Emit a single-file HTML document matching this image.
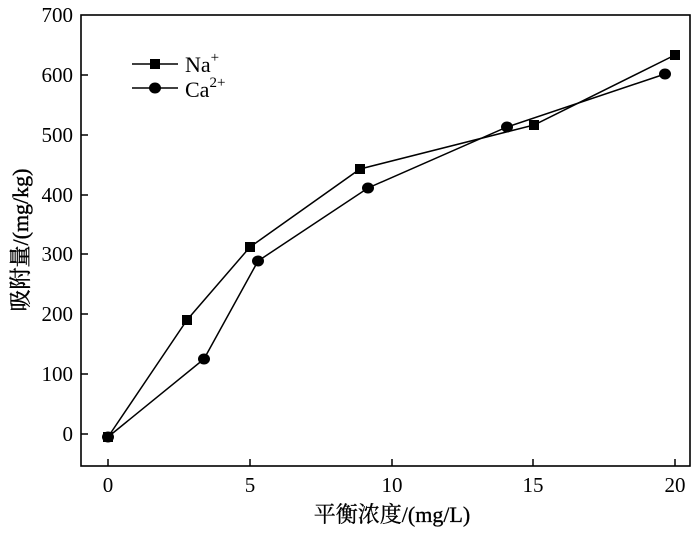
<!DOCTYPE html><html><head><style>body{margin:0;background:#fff}</style></head><body>
<svg width="700" height="529" xmlns="http://www.w3.org/2000/svg" font-family="Liberation Serif, Noto Serif CJK SC, serif" font-size="21">
<rect x="81" y="15" width="609" height="451" fill="none" stroke="#000" stroke-width="1.6"/>
<g stroke="#000" stroke-width="1.5">
<line x1="108" y1="466" x2="108" y2="459"/><line x1="250" y1="466" x2="250" y2="459"/><line x1="392" y1="466" x2="392" y2="459"/><line x1="533" y1="466" x2="533" y2="459"/><line x1="675" y1="466" x2="675" y2="459"/>
<line x1="81" y1="434" x2="88" y2="434"/><line x1="81" y1="374" x2="88" y2="374"/><line x1="81" y1="314" x2="88" y2="314"/><line x1="81" y1="254" x2="88" y2="254"/><line x1="81" y1="195" x2="88" y2="195"/><line x1="81" y1="135" x2="88" y2="135"/><line x1="81" y1="75" x2="88" y2="75"/>
</g>
<g text-anchor="middle"><text x="108" y="492">0</text><text x="250" y="492">5</text><text x="392" y="492">10</text><text x="533" y="492">15</text><text x="675" y="492">20</text></g>
<g text-anchor="end"><text x="73" y="441">0</text><text x="73" y="381">100</text><text x="73" y="321">200</text><text x="73" y="261">300</text><text x="73" y="202">400</text><text x="73" y="142">500</text><text x="73" y="82">600</text><text x="73" y="22">700</text></g>
<text x="392" y="522" text-anchor="middle" font-size="22" stroke="#000" stroke-width="0.3">平衡浓度/(mg/L)</text>
<text transform="translate(28,240) rotate(-90)" text-anchor="middle" font-size="22" stroke="#000" stroke-width="0.4">吸附量/(mg/kg)</text>
<polyline fill="none" stroke="#000" stroke-width="1.5" points="108,437 187,320 250,247 360,169 534,125 675,55"/>
<polyline fill="none" stroke="#000" stroke-width="1.5" points="108,437 204,359 258,261 368,188 507,127 665,74"/>
<g fill="#000">
<rect x="103" y="432" width="10" height="10"/><rect x="182" y="315" width="10" height="10"/><rect x="245" y="242" width="10" height="10"/><rect x="355" y="164" width="10" height="10"/><rect x="529" y="120" width="10" height="10"/><rect x="670" y="50" width="10" height="10"/>
<ellipse cx="108" cy="437" rx="6" ry="5.5"/><ellipse cx="204" cy="359" rx="6" ry="5.5"/><ellipse cx="258" cy="261" rx="6" ry="5.5"/><ellipse cx="368" cy="188" rx="6" ry="5.5"/><ellipse cx="507" cy="127" rx="6" ry="5.5"/><ellipse cx="665" cy="74" rx="6" ry="5.5"/>
<rect x="150" y="59" width="10" height="10"/><ellipse cx="155" cy="88" rx="6" ry="5.5"/>
</g>
<line x1="132" y1="64" x2="178" y2="64" stroke="#000" stroke-width="1.5"/>
<line x1="132" y1="88" x2="178" y2="88" stroke="#000" stroke-width="1.5"/>
<text x="185" y="72" font-size="22">Na<tspan font-size="15" dy="-10">+</tspan></text>
<text x="185" y="97" font-size="22">Ca<tspan font-size="15" dy="-10">2+</tspan></text>
</svg></body></html>
